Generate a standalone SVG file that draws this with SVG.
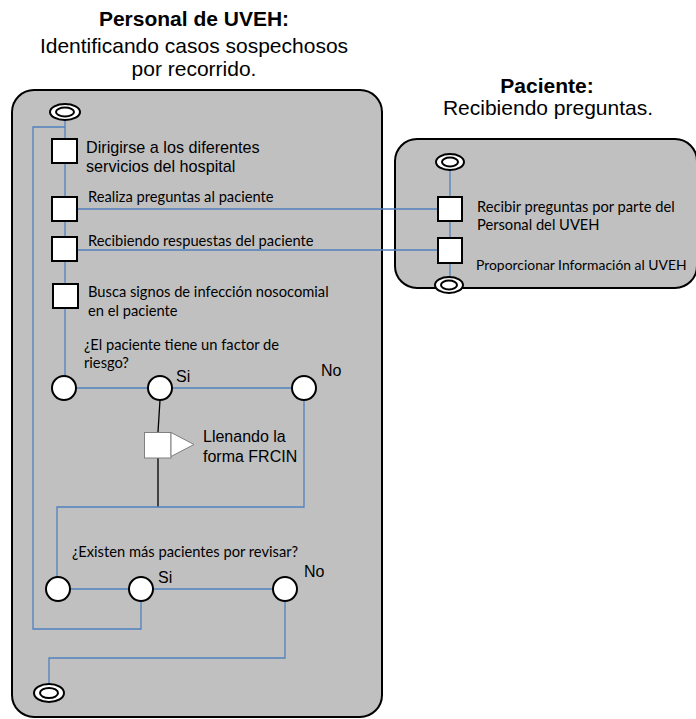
<svg xmlns="http://www.w3.org/2000/svg" width="696" height="719" viewBox="0 0 696 719">
  <style>
    .lane { fill: #c0c0c0; stroke: #000; stroke-width: 2; }
    .head { font-family: "Liberation Sans", Arial, sans-serif; font-size: 21px; fill: #000; text-anchor: middle; }
    .head-b { font-weight: bold; }
    .lbl { font-family: "Liberation Sans", Arial, sans-serif; font-size: 16px; fill: #000; }
    .lbl-w { font-size: 16.2px; }
    .act { font-family: Lato, "Open Sans", sans-serif; font-size: 14.7px; fill: #000; }
    .act-s { font-size: 13.9px; }
    .task { fill: #fff; stroke: #000; stroke-width: 2; }
    .dec { fill: #fff; stroke: #000; stroke-width: 2; }
    .flow { fill: none; stroke: #4f81bd; stroke-width: 1.3; }
    .flow-k { fill: none; stroke: #000; stroke-width: 1.3; }
    .doc { fill: #fff; stroke: #7f7f7f; stroke-width: 1; }
  </style>

  <!-- swimlane headers -->
  <text class="head head-b" x="194" y="26">Personal de UVEH:</text>
  <text class="head" x="194" y="53">Identificando casos sospechosos</text>
  <text class="head" x="194" y="76">por recorrido.</text>
  <text class="head head-b" x="547" y="93">Paciente:</text>
  <text class="head" x="548" y="115">Recibiendo preguntas.</text>

  <!-- swimlanes -->
  <rect class="lane" x="12" y="90" width="370" height="627" rx="22" ry="22"/>
  <rect class="lane" x="395" y="139" width="302" height="149" rx="22" ry="22"/>

  <!-- connectors -->
  <g id="connectors">
    <!-- main sequence, left lane -->
    <path class="flow" d="M65 120 V376"/>
    <path class="flow" d="M76 388 H148 M172 388 H292"/>
    <!-- messages to the patient lane -->
    <path class="flow" d="M77 209 H438"/>
    <path class="flow" d="M77 250 H438"/>
    <!-- patient lane sequence -->
    <path class="flow" d="M450 170 V197 M450 221 V238 M450 263 V278"/>
    <!-- risk factor branches -->
    <path class="flow-k" d="M160 400 L158 432 M158 458 V507"/>
    <path class="flow" d="M304 400 V507 H57 V577"/>
    <!-- more patients decision -->
    <path class="flow" d="M70 589 H129 M153 589 H273"/>
    <!-- loop back to the start -->
    <path class="flow" d="M141 601 V629 H33 V127 H65"/>
    <!-- finish -->
    <path class="flow" d="M285 601 V658 H49 V684"/>
  </g>

  <!-- left lane nodes -->
  <g id="start-uveh">
    <ellipse class="dec" cx="65" cy="112" rx="15" ry="8"/>
    <ellipse class="dec" cx="65" cy="112" rx="9" ry="4.5"/>
  </g>
  <g id="dirigirse">
    <rect class="task" x="52" y="139" width="25" height="24"/>
    <text class="lbl lbl-w" x="86" y="153">Dirigirse a los diferentes</text>
    <text class="lbl lbl-w" x="86" y="172">servicios del hospital</text>
  </g>
  <g id="realiza-preguntas">
    <rect class="task" x="52" y="197" width="25" height="24"/>
    <text class="act" x="88" y="202">Realiza preguntas al paciente</text>
  </g>
  <g id="recibiendo-respuestas">
    <rect class="task" x="52" y="237" width="25" height="24"/>
    <text class="act" x="88" y="246">Recibiendo respuestas del paciente</text>
  </g>
  <g id="busca-signos">
    <rect class="task" x="53" y="284" width="25" height="24"/>
    <text class="act" x="88" y="297">Busca signos de infección nosocomial</text>
    <text class="act" x="88" y="316">en el paciente</text>
  </g>
  <g id="factor-riesgo">
    <text class="act" x="84" y="350">¿El paciente tiene un factor de</text>
    <text class="act" x="84" y="368">riesgo?</text>
    <circle class="dec" cx="64" cy="388" r="12"/>
  </g>
  <g id="riesgo-si">
    <circle class="dec" cx="160" cy="388" r="12"/>
    <text class="lbl" x="176" y="382">Si</text>
  </g>
  <g id="riesgo-no">
    <circle class="dec" cx="304" cy="388" r="12"/>
    <text class="lbl" x="321" y="376">No</text>
  </g>
  <g id="forma-frcin">
    <rect class="doc" x="144.5" y="432.5" width="26.5" height="25.5"/>
    <polygon class="doc" points="171,432.5 194,444.5 171,456.5"/>
    <text class="lbl" x="203" y="442">Llenando la</text>
    <text class="lbl" x="203" y="462">forma FRCIN</text>
  </g>
  <g id="mas-pacientes">
    <text class="act" x="72" y="557">¿Existen más pacientes por revisar?</text>
    <circle class="dec" cx="58" cy="589" r="12"/>
  </g>
  <g id="mas-si">
    <circle class="dec" cx="141" cy="589" r="12"/>
    <text class="lbl" x="158" y="583">Si</text>
  </g>
  <g id="mas-no">
    <circle class="dec" cx="285" cy="589" r="12"/>
    <text class="lbl" x="304" y="577">No</text>
  </g>
  <g id="end-uveh">
    <ellipse class="dec" cx="49" cy="693" rx="15" ry="9"/>
    <ellipse class="dec" cx="49" cy="693" rx="9" ry="5"/>
  </g>

  <!-- patient lane nodes -->
  <g id="start-paciente">
    <ellipse class="dec" cx="450" cy="162" rx="14" ry="8"/>
    <ellipse class="dec" cx="450" cy="162" rx="8" ry="4.5"/>
  </g>
  <g id="recibir-preguntas">
    <rect class="task" x="438" y="197" width="24" height="24"/>
    <text class="act" x="477" y="212">Recibir preguntas por parte del</text>
    <text class="act" x="477" y="230">Personal del UVEH</text>
  </g>
  <g id="proporcionar-info">
    <rect class="task" x="438" y="238" width="24" height="25"/>
    <text class="act act-s" x="476" y="270">Proporcionar Información al UVEH</text>
  </g>
  <g id="end-paciente">
    <ellipse class="dec" cx="449" cy="285" rx="14" ry="8"/>
    <ellipse class="dec" cx="449" cy="285" rx="8" ry="4.5"/>
  </g>
</svg>
